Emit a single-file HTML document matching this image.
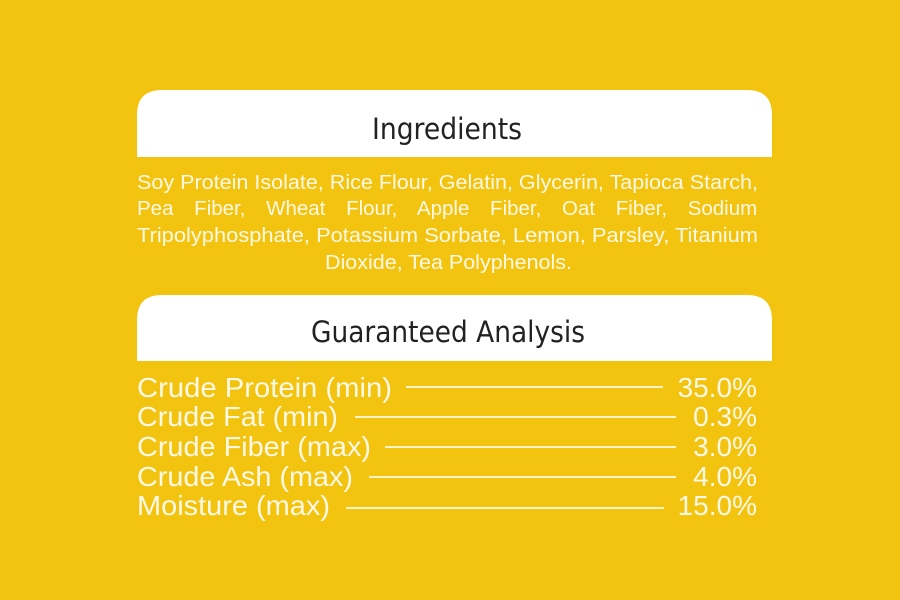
<!DOCTYPE html>
<html><head><style>
html,body{margin:0;padding:0;background:#F2C40F;}
svg{display:block}
</style></head><body>
<svg width="900" height="600" xmlns="http://www.w3.org/2000/svg">
<rect width="900" height="600" fill="#F2C40F"/>
<path d="M137,157 V115 Q137,90 162,90 H747 Q772,90 772,115 V157 Z" fill="#fff"/>
<path d="M137,361 V320 Q137,295 162,295 H747 Q772,295 772,320 V361 Z" fill="#fff"/>
<g font-family="'DejaVu Sans', sans-serif" fill="#222" font-size="29">
<text x="372" y="139" textLength="150" lengthAdjust="spacingAndGlyphs">Ingredients</text>
<text x="311" y="342" textLength="274" lengthAdjust="spacingAndGlyphs">Guaranteed Analysis</text>
</g>
<g font-family="'Liberation Sans', sans-serif" fill="#FFF8E6" font-size="20.5">
<text x="137" y="189" textLength="621" lengthAdjust="spacingAndGlyphs">Soy Protein Isolate, Rice Flour, Gelatin, Glycerin, Tapioca Starch,</text>
<text x="137" y="215" word-spacing="15">Pea Fiber, Wheat Flour, Apple Fiber, Oat Fiber, Sodium</text>
<text x="137" y="242" textLength="621" lengthAdjust="spacingAndGlyphs">Tripolyphosphate, Potassium Sorbate, Lemon, Parsley, Titanium</text>
<text x="325" y="269" textLength="247" lengthAdjust="spacingAndGlyphs">Dioxide, Tea Polyphenols.</text>
</g>
<g font-family="'Liberation Sans', sans-serif" fill="#FFF8E6" font-size="28">
<text x="137" y="397" textLength="255" lengthAdjust="spacingAndGlyphs">Crude Protein (min)</text>
<text x="137" y="426" textLength="201" lengthAdjust="spacingAndGlyphs">Crude Fat (min)</text>
<text x="137" y="456" textLength="234" lengthAdjust="spacingAndGlyphs">Crude Fiber (max)</text>
<text x="137" y="486" textLength="216" lengthAdjust="spacingAndGlyphs">Crude Ash (max)</text>
<text x="137" y="515" textLength="193" lengthAdjust="spacingAndGlyphs">Moisture (max)</text>
<g text-anchor="end">
<text x="757" y="397">35.0%</text>
<text x="757" y="426">0.3%</text>
<text x="757" y="456">3.0%</text>
<text x="757" y="486">4.0%</text>
<text x="757" y="515">15.0%</text>
</g>
</g>
<g stroke="#FFF3C8" stroke-width="2">
<line x1="406" y1="387" x2="663" y2="387"/>
<line x1="355" y1="417" x2="676" y2="417"/>
<line x1="385" y1="447" x2="676" y2="447"/>
<line x1="369" y1="477" x2="676" y2="477"/>
<line x1="346" y1="508" x2="664" y2="508"/>
</g>
</svg>
</body></html>
